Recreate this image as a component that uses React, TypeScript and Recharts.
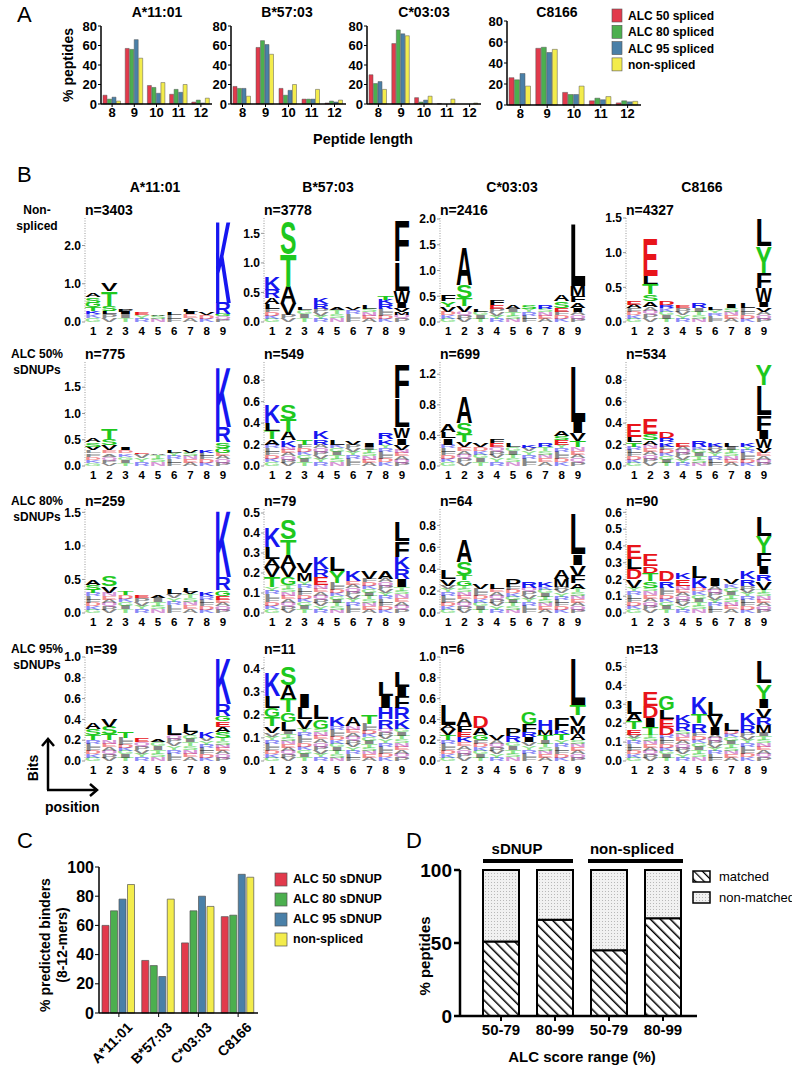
import React from 'react';
import { BarChart, Bar, XAxis, YAxis } from 'recharts';

const FONT = '"Liberation Sans", Arial, Helvetica, sans-serif';

// ---------- Panel A: peptide length distribution ----------
const lengths = ['8', '9', '10', '11', '12'];
const a11_s50 = [9, 57, 19, 10, 2];
const a11_s80 = [5, 56, 17, 15, 4];
const a11_s95 = [7, 66, 11, 12, 1];
const a11_non = [3, 47, 22, 20, 6];
const b57_s50 = [18, 58, 16, 5, 1];
const b57_s80 = [16, 65, 9, 5, 3];
const b57_s95 = [16, 61, 14, 5, 2];
const b57_non = [8, 51, 20, 15, 4];
const c03_s50 = [30, 62, 6.5, 0.5, 0];
const c03_s80 = [21, 76, 2, 0, 0];
const c03_s95 = [23, 72, 4, 0, 0];
const c03_non = [15, 70, 8, 5, 1];
const c81_s50 = [26, 54, 12, 4, 2];
const c81_s80 = [24, 55, 10, 6.5, 4];
const c81_s95 = [30, 50, 10, 5, 3];
const c81_non = [18, 53, 18, 8, 3.5];

const RED = '#e23a4c';
const GREEN = '#4caf4f';
const BLUE = '#4a80a8';
const YELLOW = '#f3ec4c';

// ---------- Panel C: predicted binders ----------
const alleles = ['A*11:01', 'B*57:03', 'C*03:03', 'C8166'];
const bind_s50 = [60, 36, 48, 66];
const bind_s80 = [70, 32.5, 70, 67];
const bind_s95 = [78, 25, 80, 95];
const bind_non = [88, 78, 73, 93];

// ---------- Panel D: matched peptides ----------
const alcRanges = ['50-79', '80-99', '50-79', '80-99'];
const matched = [51, 66, 45, 67];
const nonMatched = [49, 34, 55, 33];

// ---------- Panel B: sequence logos ----------
// each position: [background bits, letter, bits, letter, bits, ...] bottom to top
const logoA11Non = [
  [0.2, 'K', 0.08, 'T', 0.1, 'G', 0.12, 'S', 0.15, 'A', 0.1],
  [0.2, 'L', 0.08, 'S', 0.15, 'T', 0.38, 'V', 0.22],
  [0.22, 'I', 0.05, 'P', 0.05],
  [0.18, 'E', 0.07],
  [0.17, 'A', 0.04],
  [0.18, 'L', 0.06],
  [0.22, 'I', 0.05, 'L', 0.07],
  [0.18, 'V', 0.06],
  [0.15, 'G', 0.05, 'R', 0.3, 'K', 2.2],
];
const logoB57Non = [
  [0.22, 'L', 0.08, 'A', 0.1, 'R', 0.15, 'K', 0.22],
  [0.12, 'V', 0.2, 'A', 0.28, 'T', 0.55, 'S', 0.55],
  [0.2, 'L', 0.05],
  [0.22, 'R', 0.08, 'K', 0.1],
  [0.2, 'A', 0.05],
  [0.2, 'V', 0.04],
  [0.22, 'L', 0.06],
  [0.22, 'R', 0.08, 'K', 0.08, 'T', 0.07],
  [0.12, 'M', 0.05, 'V', 0.06, 'I', 0.1, 'W', 0.2, 'L', 0.5, 'F', 0.7],
];
const logoC03Non = [
  [0.2, 'V', 0.1, 'Y', 0.1, 'F', 0.12],
  [0.2, 'V', 0.12, 'T', 0.15, 'S', 0.25, 'A', 0.75],
  [0.2, 'L', 0.05],
  [0.25, 'E', 0.08, 'F', 0.1],
  [0.25, 'A', 0.08],
  [0.25, 'S', 0.07],
  [0.25, 'R', 0.07],
  [0.2, 'E', 0.08, 'S', 0.12, 'A', 0.12],
  [0.2, 'I', 0.08, 'A', 0.1, 'F', 0.12, 'M', 0.2, 'L', 1.25],
];
const logoC81Non = [
  [0.2, 'A', 0.05, 'E', 0.05],
  [0.22, 'A', 0.08, 'S', 0.1, 'T', 0.15, 'L', 0.12, 'E', 0.55],
  [0.2, 'R', 0.04, 'D', 0.06],
  [0.2, 'E', 0.03],
  [0.2, 'R', 0.08],
  [0.18, 'L', 0.03],
  [0.2, 'I', 0.05],
  [0.2, 'L', 0.08],
  [0.15, 'V', 0.06, 'I', 0.08, 'W', 0.2, 'F', 0.22, 'Y', 0.38, 'L', 0.4],
];
const logoA11_50 = [
  [0.3, 'V', 0.07, 'S', 0.08, 'A', 0.08],
  [0.3, 'V', 0.1, 'S', 0.12, 'T', 0.2],
  [0.3, 'I', 0.05],
  [0.22, 'E', 0.03],
  [0.2, 'A', 0.02],
  [0.25, 'L', 0.05],
  [0.25, 'V', 0.05],
  [0.25, 'K', 0.05],
  [0.25, 'G', 0.1, 'S', 0.1, 'R', 0.3, 'K', 1.15],
];
const logoB57_50 = [
  [0.2, 'A', 0.05, 'T', 0.08, 'L', 0.07, 'K', 0.17],
  [0.18, 'K', 0.06, 'A', 0.08, 'T', 0.12, 'S', 0.14],
  [0.2, 'T', 0.05],
  [0.2, 'R', 0.05, 'K', 0.07],
  [0.2, 'L', 0.05],
  [0.2, 'V', 0.04],
  [0.18, 'I', 0.04],
  [0.2, 'K', 0.05, 'R', 0.06],
  [0.15, 'V', 0.05, 'I', 0.06, 'W', 0.1, 'L', 0.27, 'F', 0.32],
];
const logoC03_50 = [
  [0.28, 'I', 0.08, 'L', 0.08, 'A', 0.1],
  [0.25, 'V', 0.06, 'T', 0.1, 'S', 0.15, 'A', 0.35],
  [0.25, 'V', 0.05],
  [0.25, 'E', 0.05, 'F', 0.05],
  [0.25, 'L', 0.05],
  [0.24, 'K', 0.04],
  [0.25, 'R', 0.05],
  [0.28, 'E', 0.06, 'S', 0.05, 'A', 0.06],
  [0.25, 'T', 0.08, 'V', 0.1, 'I', 0.15, 'L', 0.75],
];
const logoC81_50 = [
  [0.18, 'T', 0.04, 'L', 0.05, 'E', 0.12],
  [0.2, 'A', 0.04, 'S', 0.06, 'E', 0.15],
  [0.18, 'K', 0.04, 'R', 0.04, 'D', 0.06],
  [0.18, 'E', 0.04],
  [0.18, 'R', 0.06],
  [0.18, 'K', 0.04],
  [0.18, 'L', 0.04],
  [0.18, 'K', 0.04],
  [0.12, 'V', 0.05, 'W', 0.08, 'I', 0.08, 'F', 0.15, 'L', 0.28, 'Y', 0.2],
];
const logoA11_80 = [
  [0.3, 'T', 0.05, 'S', 0.07, 'A', 0.08],
  [0.3, 'V', 0.1, 'S', 0.15],
  [0.27, 'T', 0.05],
  [0.22, 'E', 0.03],
  [0.22, 'A', 0.03],
  [0.28, 'L', 0.08],
  [0.28, 'V', 0.04, 'L', 0.05],
  [0.25, 'K', 0.05],
  [0.2, 'E', 0.06, 'G', 0.08, 'R', 0.2, 'K', 1.0],
];
const logoB57_80 = [
  [0.13, 'T', 0.05, 'V', 0.05, 'A', 0.04, 'L', 0.06, 'K', 0.1],
  [0.14, 'G', 0.04, 'V', 0.05, 'A', 0.06, 'T', 0.08, 'S', 0.1],
  [0.16, 'M', 0.04, 'V', 0.05],
  [0.14, 'E', 0.04, 'R', 0.04, 'K', 0.06],
  [0.15, 'Y', 0.06, 'L', 0.07],
  [0.16, 'K', 0.05],
  [0.17, 'V', 0.04],
  [0.17, 'A', 0.04],
  [0.13, 'I', 0.04, 'R', 0.05, 'K', 0.06, 'F', 0.08, 'L', 0.1],
];
const logoC03_80 = [
  [0.25, 'V', 0.06, 'L', 0.08],
  [0.25, 'G', 0.05, 'T', 0.05, 'S', 0.12, 'A', 0.2],
  [0.22, 'V', 0.05],
  [0.22, 'L', 0.05],
  [0.24, 'P', 0.07],
  [0.23, 'R', 0.06],
  [0.24, 'K', 0.05],
  [0.24, 'M', 0.07, 'A', 0.08],
  [0.22, 'A', 0.05, 'F', 0.07, 'V', 0.1, 'I', 0.1, 'L', 0.38],
];
const logoC81_80 = [
  [0.15, 'V', 0.05, 'D', 0.06, 'L', 0.06, 'E', 0.09],
  [0.15, 'S', 0.04, 'T', 0.05, 'D', 0.04, 'E', 0.07],
  [0.15, 'R', 0.04, 'D', 0.06],
  [0.16, 'E', 0.04, 'K', 0.04],
  [0.15, 'K', 0.06, 'L', 0.07],
  [0.16, 'I', 0.05],
  [0.17, 'V', 0.03],
  [0.16, 'R', 0.04, 'K', 0.05],
  [0.14, 'V', 0.05, 'R', 0.04, 'I', 0.05, 'F', 0.08, 'Y', 0.1, 'L', 0.12],
];
const logoA11_95 = [
  [0.2, 'T', 0.05, 'S', 0.06, 'A', 0.06],
  [0.2, 'T', 0.06, 'S', 0.07, 'V', 0.08],
  [0.22, 'T', 0.06],
  [0.18, 'E', 0.04],
  [0.18, 'A', 0.03],
  [0.25, 'L', 0.1],
  [0.25, 'V', 0.03, 'L', 0.07],
  [0.22, 'K', 0.06],
  [0.22, 'S', 0.06, 'A', 0.05, 'E', 0.05, 'G', 0.05, 'R', 0.12, 'K', 0.45],
];
const logoB57_95 = [
  [0.12, 'V', 0.03, 'T', 0.04, 'G', 0.04, 'L', 0.05, 'K', 0.1],
  [0.13, 'L', 0.04, 'G', 0.04, 'T', 0.06, 'A', 0.06, 'S', 0.08],
  [0.14, 'V', 0.04, 'L', 0.05, 'I', 0.06],
  [0.14, 'G', 0.04, 'L', 0.06],
  [0.15, 'K', 0.04],
  [0.15, 'A', 0.04],
  [0.16, 'T', 0.04],
  [0.14, 'R', 0.04, 'H', 0.05, 'I', 0.05, 'L', 0.06],
  [0.14, 'K', 0.04, 'R', 0.05, 'F', 0.05, 'I', 0.04, 'L', 0.07],
];
const logoC03_95 = [
  [0.2, 'T', 0.05, 'V', 0.06, 'A', 0.04, 'L', 0.2],
  [0.18, 'K', 0.05, 'E', 0.05, 'F', 0.06, 'A', 0.14],
  [0.2, 'G', 0.05, 'A', 0.07, 'D', 0.12],
  [0.2, 'V', 0.05],
  [0.18, 'R', 0.06, 'P', 0.08],
  [0.18, 'I', 0.05, 'R', 0.05, 'F', 0.08, 'G', 0.12],
  [0.2, 'T', 0.05, 'M', 0.05, 'H', 0.1],
  [0.2, 'T', 0.06, 'K', 0.04, 'F', 0.12],
  [0.2, 'A', 0.06, 'M', 0.08, 'V', 0.1, 'T', 0.1, 'L', 0.46],
];
const logoC81_95 = [
  [0.14, 'E', 0.03, 'T', 0.04, 'A', 0.04, 'L', 0.07],
  [0.14, 'T', 0.04, 'I', 0.05, 'D', 0.06, 'E', 0.08],
  [0.14, 'D', 0.04, 'E', 0.04, 'L', 0.05, 'G', 0.08],
  [0.16, 'R', 0.04, 'K', 0.04],
  [0.15, 'R', 0.05, 'T', 0.05, 'K', 0.09],
  [0.14, 'I', 0.04, 'V', 0.06, 'L', 0.08],
  [0.16, 'L', 0.04],
  [0.15, 'R', 0.04, 'K', 0.06],
  [0.15, 'M', 0.04, 'R', 0.04, 'V', 0.05, 'I', 0.05, 'Y', 0.08, 'L', 0.12],
];

const AA_COLOR: Record<string, string> = {
  K: '#1616f0', R: '#1616f0', H: '#1616f0',
  D: '#e8141a', E: '#e8141a',
  S: '#1ec81e', T: '#1ec81e', G: '#1ec81e', Y: '#1ec81e', C: '#1ec81e',
  N: '#b030b0', Q: '#b030b0',
};
const NOISE = 'GSAVLKTEPRDINQYF';
const LAYERS = [0, 1, 2, 3, 4, 5, 6];

const LOGO_X = [85, 264, 440, 626];
const LOGO_BASE = [322, 466, 613, 761];
const LOGO_W = 146;
const LOGO_H = 104;

const LOGOS = [
  { cols: logoA11Non, max: 2.72, ticks: [0, 1, 2], n: 'n=3403', r: 0, c: 0 },
  { cols: logoB57Non, max: 1.76, ticks: [0, 0.5, 1, 1.5], n: 'n=3778', r: 0, c: 1 },
  { cols: logoC03Non, max: 2.02, ticks: [0, 0.5, 1, 1.5, 2], n: 'n=2416', r: 0, c: 2 },
  { cols: logoC81Non, max: 1.5, ticks: [0, 0.5, 1, 1.5], n: 'n=4327', r: 0, c: 3 },
  { cols: logoA11_50, max: 1.98, ticks: [0, 0.5, 1, 1.5], n: 'n=775', r: 1, c: 0 },
  { cols: logoB57_50, max: 0.97, ticks: [0, 0.2, 0.4, 0.6, 0.8], n: 'n=549', r: 1, c: 1 },
  { cols: logoC03_50, max: 1.36, ticks: [0, 0.4, 0.8, 1.2], n: 'n=699', r: 1, c: 2 },
  { cols: logoC81_50, max: 0.97, ticks: [0, 0.2, 0.4, 0.6, 0.8], n: 'n=534', r: 1, c: 3 },
  { cols: logoA11_80, max: 1.55, ticks: [0, 0.5, 1, 1.5], n: 'n=259', r: 2, c: 0 },
  { cols: logoB57_80, max: 0.52, ticks: [0, 0.1, 0.2, 0.3, 0.4, 0.5], n: 'n=79', r: 2, c: 1 },
  { cols: logoC03_80, max: 0.95, ticks: [0, 0.2, 0.4, 0.6, 0.8], n: 'n=64', r: 2, c: 2 },
  { cols: logoC81_80, max: 0.62, ticks: [0, 0.1, 0.2, 0.3, 0.4, 0.5, 0.6], n: 'n=90', r: 2, c: 3 },
  { cols: logoA11_95, max: 1.0, ticks: [0, 0.2, 0.4, 0.6, 0.8, 1.0], n: 'n=39', r: 3, c: 0 },
  { cols: logoB57_95, max: 0.45, ticks: [0, 0.1, 0.2, 0.3, 0.4], n: 'n=11', r: 3, c: 1 },
  { cols: logoC03_95, max: 1.0, ticks: [0, 0.2, 0.4, 0.6, 0.8, 1.0], n: 'n=6', r: 3, c: 2 },
  { cols: logoC81_95, max: 0.55, ticks: [0, 0.1, 0.2, 0.3, 0.4, 0.5], n: 'n=13', r: 3, c: 3 },
];

const ROW_LABELS = [['Non-', 'spliced'], ['ALC 50%', 'sDNUPs'], ['ALC 80%', 'sDNUPs'], ['ALC 95%', 'sDNUPs']];
const LOGO_TITLES = ['A*11:01', 'B*57:03', 'C*03:03', 'C8166'];

function toRows(cols: any[]) {
  return cols.map((c, i) => {
    const r: any = { pos: String(i + 1), bg: c[0] };
    LAYERS.forEach((j) => {
      r['l' + j] = c[1 + 2 * j] ?? '';
      r['h' + j] = c[2 + 2 * j] ?? 0;
    });
    return r;
  });
}

// a letter stretched to fill its box (slightly wider than the advance so the ink fills the column)
const Glyph = ({ ch, x, y, w, h, color, opacity = 1 }: any) => (
  <text
    x={0}
    y={0}
    fontSize={100}
    fontWeight={700}
    fontFamily={FONT}
    fill={color}
    opacity={opacity}
    textLength={70}
    lengthAdjust="spacingAndGlyphs"
    transform={`translate(${x - w * 0.05},${y + h}) scale(${(w * 1.1) / 70},${h / 71.6})`}
  >
    {ch}
  </text>
);

const letterShape = (i: number) => (p: any) => {
  const ch = p.payload ? p.payload['l' + i] : '';
  if (!ch || !(p.height > 0.3)) return <g />;
  return <Glyph ch={ch} x={p.x} y={p.y} w={p.width} h={p.height} color={AA_COLOR[ch] || '#000'} />;
};

const bgShape = (p: any) => {
  if (!(p.height > 0.3)) return <g />;
  const n = Math.max(1, Math.round(p.height / 3.5));
  const hs = p.height / n;
  const idx = p.index || 0;
  const out = [];
  for (let j = 0; j < n; j++) {
    const ch = NOISE[(j * 5 + idx * 3) % NOISE.length];
    out.push(
      <Glyph key={j} ch={ch} x={p.x} y={p.y + p.height - (j + 1) * hs} w={p.width} h={hs}
        color={AA_COLOR[ch] || '#111'} opacity={0.5} />
    );
  }
  return <g>{out}</g>;
};

const Logo = ({ cfg }: any) => {
  const yw = 28;
  const mt = 5;
  const left = LOGO_X[cfg.c];
  const top = LOGO_BASE[cfg.r] - LOGO_H;
  return (
    <div style={{ position: 'absolute', left: left - yw, top: top - mt }}>
      <BarChart width={yw + LOGO_W + 4} height={mt + LOGO_H + 18} data={toRows(cfg.cols)}
        margin={{ top: mt, right: 4, left: 0, bottom: 0 }} barCategoryGap={0.5}>
        <XAxis dataKey="pos" axisLine={false} tickLine={false} tickSize={3} interval={0} height={18}
          tick={{ fontSize: 11.5, fontWeight: 700, fill: '#000', fontFamily: FONT }} />
        <YAxis domain={[0, cfg.max]} ticks={cfg.ticks} interval={0} allowDataOverflow width={yw} tickSize={3} tickMargin={1}
          axisLine={{ stroke: '#999', strokeDasharray: '1 1.5' }} tickLine={{ stroke: '#999' }}
          tickFormatter={(v: number) => v.toFixed(1)}
          tick={{ fontSize: 12, fontWeight: 700, fill: '#000', fontFamily: FONT }} />
        <Bar dataKey="bg" stackId="s" isAnimationActive={false} shape={bgShape} />
        {LAYERS.map((i) => (
          <Bar key={i} dataKey={'h' + i} stackId="s" isAnimationActive={false} shape={letterShape(i)} />
        ))}
      </BarChart>
    </div>
  );
};

const LEN_PANELS = [
  { title: 'A*11:01', s: [a11_s50, a11_s80, a11_s95, a11_non], px: 101, pw: 111, py: 26, ph: 78, tx: 157 },
  { title: 'B*57:03', s: [b57_s50, b57_s80, b57_s95, b57_non], px: 231, pw: 115, py: 26, ph: 78, tx: 287 },
  { title: 'C*03:03', s: [c03_s50, c03_s80, c03_s95, c03_non], px: 367, pw: 114, py: 26, ph: 78, tx: 424 },
  { title: 'C8166', s: [c81_s50, c81_s80, c81_s95, c81_non], px: 507, pw: 134, py: 21, ph: 84, tx: 557 },
];
const SERIES_COLORS = [RED, GREEN, BLUE, YELLOW];

const LengthChart = ({ cfg }: any) => {
  const yw = 26;
  const mt = 7;
  const data = lengths.map((l, i) => ({ len: l, s50: cfg.s[0][i], s80: cfg.s[1][i], s95: cfg.s[2][i], non: cfg.s[3][i] }));
  return (
    <div style={{ position: 'absolute', left: cfg.px - yw, top: cfg.py - mt }}>
      <BarChart width={yw + cfg.pw + 2} height={mt + cfg.ph + 20} data={data}
        margin={{ top: mt, right: 2, left: 0, bottom: 0 }} barCategoryGap={2} barGap={0.5}>
        <XAxis dataKey="len" interval={0} height={20} tickSize={3} tickMargin={1}
          axisLine={{ stroke: '#000', strokeWidth: 1.5 }} tickLine={{ stroke: '#000' }}
          tick={{ fontSize: 13, fontWeight: 700, fill: '#000', fontFamily: FONT }} />
        <YAxis domain={[0, 80]} ticks={[0, 20, 40, 60, 80]} interval={0} width={yw} tickSize={3} tickMargin={1}
          axisLine={{ stroke: '#000', strokeWidth: 1.5 }} tickLine={{ stroke: '#000' }}
          tick={{ fontSize: 13, fontWeight: 700, fill: '#000', fontFamily: FONT }} />
        {['s50', 's80', 's95', 'non'].map((k, i) => (
          <Bar key={k} dataKey={k} fill={SERIES_COLORS[i]} stroke="#555" strokeWidth={0.5} isAnimationActive={false} />
        ))}
      </BarChart>
    </div>
  );
};

const RotTick = (p: any) => (
  <g transform={`translate(${p.x + 7},${p.y + 2})`}>
    <text x={0} y={0} transform="rotate(-45)" textAnchor="end" dominantBaseline="hanging"
      fontSize={14} fontWeight={700} fontFamily={FONT} fill="#000">{p.payload.value}</text>
  </g>
);

const BinderChart = () => {
  const px = 99, pw = 159, py = 867, ph = 146, yw = 40, mt = 8;
  const data = alleles.map((a, i) => ({ allele: a, s50: bind_s50[i], s80: bind_s80[i], s95: bind_s95[i], non: bind_non[i] }));
  return (
    <div style={{ position: 'absolute', left: px - yw, top: py - mt }}>
      <BarChart width={yw + pw + 4} height={mt + ph + 60} data={data}
        margin={{ top: mt, right: 4, left: 0, bottom: 0 }} barCategoryGap={3} barGap={1.5}>
        <XAxis dataKey="allele" interval={0} height={60} tickSize={4}
          axisLine={{ stroke: '#000', strokeWidth: 1.5 }} tickLine={{ stroke: '#000' }} tick={<RotTick />} />
        <YAxis domain={[0, 100]} ticks={[0, 20, 40, 60, 80, 100]} interval={0} width={yw} tickSize={4} tickMargin={1}
          axisLine={{ stroke: '#000', strokeWidth: 1.5 }} tickLine={{ stroke: '#000' }}
          tick={{ fontSize: 16, fontWeight: 700, fill: '#000', fontFamily: FONT }} />
        {['s50', 's80', 's95', 'non'].map((k, i) => (
          <Bar key={k} dataKey={k} fill={SERIES_COLORS[i]} stroke="#555" strokeWidth={0.7} isAnimationActive={false} />
        ))}
      </BarChart>
    </div>
  );
};

const MatchChart = () => {
  const px = 460, pw = 237, py = 870, ph = 146, yw = 50, mt = 12;
  const data = alcRanges.map((r, i) => ({ range: r, m: matched[i], nm: nonMatched[i] }));
  return (
    <div style={{ position: 'absolute', left: px - yw, top: py - mt }}>
      <BarChart width={yw + pw + 4} height={mt + ph + 30} data={data}
        margin={{ top: mt, right: 4, left: 0, bottom: 0 }} barSize={36}>
        <defs>
          <pattern id="hatchD" width="7" height="7" patternUnits="userSpaceOnUse" patternTransform="rotate(-45)">
            <rect width="7" height="7" fill="#fff" />
            <line x1="0" y1="0" x2="0" y2="7" stroke="#000" strokeWidth="3" />
          </pattern>
          <pattern id="dotsD" width="3" height="3" patternUnits="userSpaceOnUse">
            <rect width="3" height="3" fill="#f1f1f1" />
            <rect width="1" height="1" fill="#b8b8b8" />
          </pattern>
        </defs>
        <XAxis dataKey="range" interval={0} height={30} tickSize={5} tickMargin={3} padding={{ left: 14, right: 7 }}
          axisLine={{ stroke: '#000', strokeWidth: 2.5 }} tickLine={{ stroke: '#000', strokeWidth: 2 }}
          tick={{ fontSize: 15, fontWeight: 700, fill: '#000', fontFamily: FONT }} />
        <YAxis domain={[0, 100]} ticks={[0, 50, 100]} interval={0} width={yw} tickSize={6} tickMargin={2}
          axisLine={{ stroke: '#000', strokeWidth: 2.5 }} tickLine={{ stroke: '#000', strokeWidth: 2.5 }}
          tick={{ fontSize: 19, fontWeight: 700, fill: '#000', fontFamily: FONT }} />
        <Bar dataKey="m" stackId="d" fill="url(#hatchD)" stroke="#000" strokeWidth={2} isAnimationActive={false} />
        <Bar dataKey="nm" stackId="d" fill="url(#dotsD)" stroke="#000" strokeWidth={2} isAnimationActive={false} />
      </BarChart>
    </div>
  );
};

const T = ({ x, y, children, size = 12, bold = true, anchor = 'middle', rotate = 0 }: any) => (
  <text x={x} y={y} fontSize={size} fontWeight={bold ? 700 : 400} fontFamily={FONT} textAnchor={anchor}
    dominantBaseline="central" fill="#000" transform={rotate ? `rotate(${rotate},${x},${y})` : undefined}>
    {children}
  </text>
);

const LEGEND_A = ['ALC 50 spliced', 'ALC 80 spliced', 'ALC 95 spliced', 'non-spliced'];
const LEGEND_C = ['ALC 50 sDNUP', 'ALC 80 sDNUP', 'ALC 95 sDNUP', 'non-spliced'];

const Overlay = () => (
  <svg width={792} height={1065} style={{ position: 'absolute', left: 0, top: 0, pointerEvents: 'none' }}>
    <defs>
      <pattern id="hatchL" width="6" height="6" patternUnits="userSpaceOnUse" patternTransform="rotate(-45)">
        <rect width="6" height="6" fill="#fff" />
        <line x1="0" y1="0" x2="0" y2="6" stroke="#000" strokeWidth="2.5" />
      </pattern>
      <pattern id="dotsL" width="3" height="3" patternUnits="userSpaceOnUse">
        <rect width="3" height="3" fill="#f1f1f1" />
        <rect width="1" height="1" fill="#b8b8b8" />
      </pattern>
    </defs>
    {/* panel letters */}
    <T x={17} y={14} size={22} bold={false} anchor="start">A</T>
    <T x={17} y={174} size={22} bold={false} anchor="start">B</T>
    <T x={17} y={840} size={22} bold={false} anchor="start">C</T>
    <T x={406} y={840} size={22} bold={false} anchor="start">D</T>

    {/* panel A */}
    {LEN_PANELS.map((p) => <T key={p.title} x={p.tx} y={12} size={14}>{p.title}</T>)}
    <T x={68} y={65} size={14} rotate={-90}>% peptides</T>
    <T x={363} y={139} size={14.5}>Peptide length</T>
    {LEGEND_A.map((l, i) => (
      <g key={l}>
        <rect x={612} y={9 + i * 16.3} width={10} height={13} fill={SERIES_COLORS[i]} stroke="#555" strokeWidth={0.6} />
        <T x={628} y={16 + i * 16.3} size={12} anchor="start">{l}</T>
      </g>
    ))}

    {/* panel B */}
    {LOGO_TITLES.map((t, i) => <T key={t} x={[155, 328, 512, 702][i]} y={187} size={14}>{t}</T>)}
    {ROW_LABELS.map((r, i) => (
      <g key={i}>
        <T x={37} y={LOGO_BASE[i] - LOGO_H - 8} size={12}>{r[0]}</T>
        <T x={37} y={LOGO_BASE[i] - LOGO_H + 8} size={12}>{r[1]}</T>
      </g>
    ))}
    {LOGOS.map((g) => (
      <T key={g.n + g.c} x={LOGO_X[g.c]} y={LOGO_BASE[g.r] - LOGO_H - 8} size={14} anchor="start">{g.n}</T>
    ))}
    <g stroke="#000" strokeWidth={2.5} fill="none">
      <line x1={48} y1={790} x2={48} y2={739} />
      <polyline points="42,746 48,739 54,746" />
      <line x1={47} y1={790} x2={97} y2={790} />
      <polyline points="90,784 97,790 90,796" />
    </g>
    <T x={33} y={768} size={14} rotate={-90}>Bits</T>
    <T x={45} y={807} size={14} anchor="start">position</T>

    {/* panel C */}
    <T x={45} y={945} size={14} rotate={-90}>% predicted binders</T>
    <T x={62} y={945} size={14} rotate={-90}>(8-12-mers)</T>
    {LEGEND_C.map((l, i) => (
      <g key={l}>
        <rect x={275} y={873 + i * 20} width={12} height={13} fill={SERIES_COLORS[i]} stroke="#555" strokeWidth={0.7} />
        <T x={293} y={879 + i * 20} size={12.5} anchor="start">{l}</T>
      </g>
    ))}

    {/* panel D */}
    <T x={517} y={848} size={15}>sDNUP</T>
    <T x={632} y={848} size={15}>non-spliced</T>
    <line x1={483} y1={861} x2={573} y2={861} stroke="#000" strokeWidth={4} />
    <line x1={588} y1={861} x2={683} y2={861} stroke="#000" strokeWidth={4} />
    <rect x={693} y={871} width={17} height={11} fill="url(#hatchL)" stroke="#000" strokeWidth={1.5} />
    <rect x={693} y={892} width={17} height={11} fill="url(#dotsL)" stroke="#000" strokeWidth={1.5} />
    <T x={719} y={876} size={13} bold={false} anchor="start">matched</T>
    <T x={719} y={897} size={13} bold={false} anchor="start">non-matched</T>
    <T x={424} y={956} size={15} rotate={-90}>% peptides</T>
    <T x={582} y={1056} size={15}>ALC score range (%)</T>
  </svg>
);

export default function App() {
  return (
    <div style={{ position: 'absolute', left: 0, top: 0, width: 792, height: 1065, background: '#fff', fontFamily: FONT, overflow: 'hidden' }}>
      {LEN_PANELS.map((p) => <LengthChart key={p.title} cfg={p} />)}
      {LOGOS.map((g) => <Logo key={g.n + g.c} cfg={g} />)}
      <BinderChart />
      <MatchChart />
      <Overlay />
    </div>
  );
}
